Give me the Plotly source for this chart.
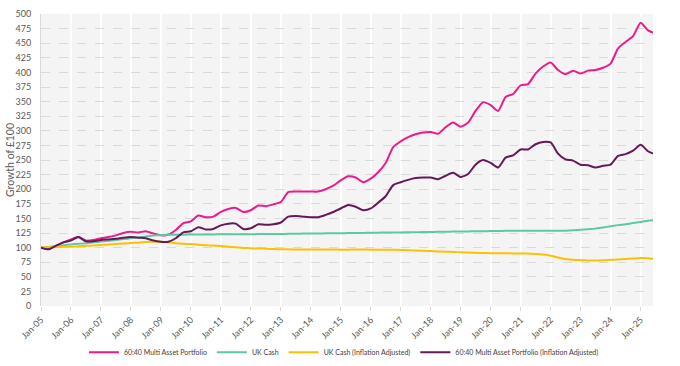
import pandas as pd
import plotly.graph_objects as go

# Quarterly observation dates (Jan-05 .. Apr-25) plus the final Jun-25 point
dates = list(pd.date_range("2005-01-01", "2025-04-01", freq="QS").strftime("%Y-%m-%d")) + ["2025-06-01"]

portfolio = [
    100, 98, 103, 109,
    114, 118, 112, 113,
    116, 118, 121, 125,
    127, 126, 128, 124,
    121, 122, 130, 142,
    145, 155, 152, 153,
    161, 166, 168, 161,
    164, 172, 171, 174,
    178, 195, 196, 196,
    196, 196, 200, 206,
    215, 222, 220, 212,
    218, 229, 245, 272,
    282, 289, 294, 297,
    298, 295, 306, 314,
    307, 314, 334, 349,
    344, 334, 358, 363,
    378, 380, 398, 410,
    417, 404, 397, 403,
    398, 403, 404, 408,
    415, 441, 452, 462,
    485, 472, 468,
]

uk_cash = [
    100, 101, 102.5, 104,
    105.5, 106.5, 107.5, 109,
    110.5, 111.5, 113, 114.5,
    116, 117.5, 119, 120.5,
    121.5, 122, 122, 122.2,
    122.3, 122.4, 122.5, 122.6,
    122.7, 122.8, 122.9, 123,
    123, 123.1, 123.2, 123.3,
    123.4, 123.6, 123.8, 124,
    124.2, 124.3, 124.4, 124.5,
    124.6, 124.8, 125, 125.2,
    125.4, 125.6, 125.8, 126,
    126, 126.2, 126.4, 126.6,
    126.8, 127, 127.2, 127.4,
    127.5, 127.7, 127.9, 128.1,
    128.3, 128.5, 128.7, 128.8,
    129, 129, 129, 129,
    129, 129, 129, 129.5,
    130.5, 131.5, 132.5, 134.5,
    136.5, 138.5, 140, 142,
    144, 146, 147,
]

uk_cash_real = [
    100, 100.5, 101, 101.3,
    101.5, 102.3, 103, 103.7,
    104.5, 105.3, 106, 107,
    108, 108.5, 109.5, 110,
    110, 109, 107.5, 106.5,
    106, 105, 104, 103.5,
    102.7, 101.5, 100.5, 99.5,
    98.8, 98.5, 98, 97.5,
    97, 97, 96.8, 96.8,
    96.7, 96.7, 96.6, 96.6,
    96.5, 96.5, 96.8, 96.6,
    96.5, 96.5, 96.4, 96.2,
    96, 95.5, 95, 94.5,
    94, 93.5, 93, 92.5,
    92, 91.5, 91, 90.7,
    90.5, 90.3, 90.2, 90.1,
    90, 89.8, 89, 88,
    86, 83, 80.5, 79,
    78.5, 78, 77.8, 78.2,
    79, 79.8, 80.5, 81.2,
    82, 81.8, 81,
]

portfolio_real = [
    100, 97, 103, 109,
    112, 118, 111, 111,
    113, 114, 115, 117,
    118, 117, 116, 112,
    110, 110, 116, 126,
    128, 135, 131, 132,
    138, 141, 141, 132,
    133, 140, 139, 140,
    143, 153, 154, 153,
    152, 152, 156, 161,
    167, 173, 170, 164,
    167, 177, 188, 207,
    212, 216, 219, 220,
    220, 217, 223, 228,
    221, 226, 242, 250,
    245, 237, 254, 258,
    268, 268, 277, 281,
    280, 261, 251, 249,
    242, 241, 237, 240,
    242, 257, 260, 266,
    276, 265, 261,
]

series_names = [
    "60:40 Multi Asset Portfolio",
    "UK Cash",
    "UK Cash (Inflation Adjusted)",
    "60:40 Multi Asset Portfolio (Inflation Adjusted)",
]
series_values = [portfolio, uk_cash, uk_cash_real, portfolio_real]
series_colors = ["#EE1A8B", "#5CC9A0", "#FFC000", "#651A58"]

tick_dates = [f"{y}-01-01" for y in range(2005, 2026)]
tick_labels = [f"Jan-{str(y)[2:]}" for y in range(2005, 2026)]
y_ticks = list(range(0, 501, 25))
y_title = "Growth of £100"

fig = go.Figure()
for name, vals, col in zip(series_names, series_values, series_colors):
    fig.add_trace(go.Scatter(
        x=dates, y=vals, name=name, mode="lines",
        line=dict(color=col, width=2, shape="spline", smoothing=0.6),
    ))

fig.update_layout(
    width=680, height=366,
    margin=dict(l=41, r=27, t=14, b=60, autoexpand=False),
    paper_bgcolor="white",
    plot_bgcolor="#F4F4F4",
    font=dict(family="Lato, Open Sans, sans-serif", color="#595959", size=10),
    showlegend=True,
    legend=dict(
        orientation="h", x=0.495, xanchor="center", y=-0.158, yanchor="middle",
        font=dict(size=7, color="#404040"),
        itemwidth=30, tracegroupgap=0,
        bgcolor="rgba(0,0,0,0)",
    ),
    xaxis=dict(
        type="date",
        range=["2005-01-01", "2025-06-01"],
        tickvals=tick_dates, ticktext=tick_labels,
        tickangle=-45,
        tickfont=dict(size=9, color="#595959"),
        showgrid=True, gridcolor="white", gridwidth=2,
        ticks="outside", ticklen=4, tickcolor="#D9D9D9",
        showline=False, zeroline=False, automargin=False,
    ),
    yaxis=dict(
        range=[0, 500],
        tickvals=y_ticks,
        tickfont=dict(size=9, color="#595959"),
        ticklabelstandoff=7,
        ticklabeloverflow="allow",
        showgrid=True, gridcolor="#D9D9D9", gridwidth=1, griddash="dash",
        showline=True, linecolor="#D9D9D9", linewidth=1,
        zeroline=False, ticks="", automargin=False,
    ),
    annotations=[dict(
        text=y_title, textangle=-90, showarrow=False,
        xref="paper", yref="paper", x=0, y=0.5, xanchor="center", yanchor="middle",
        xshift=-31, font=dict(size=10.5, color="#595959"),
    )],
)

fig.write_html(
    "out.html",
    config={"displayModeBar": False},
    post_script="document.body.style.margin='0px';",
)
